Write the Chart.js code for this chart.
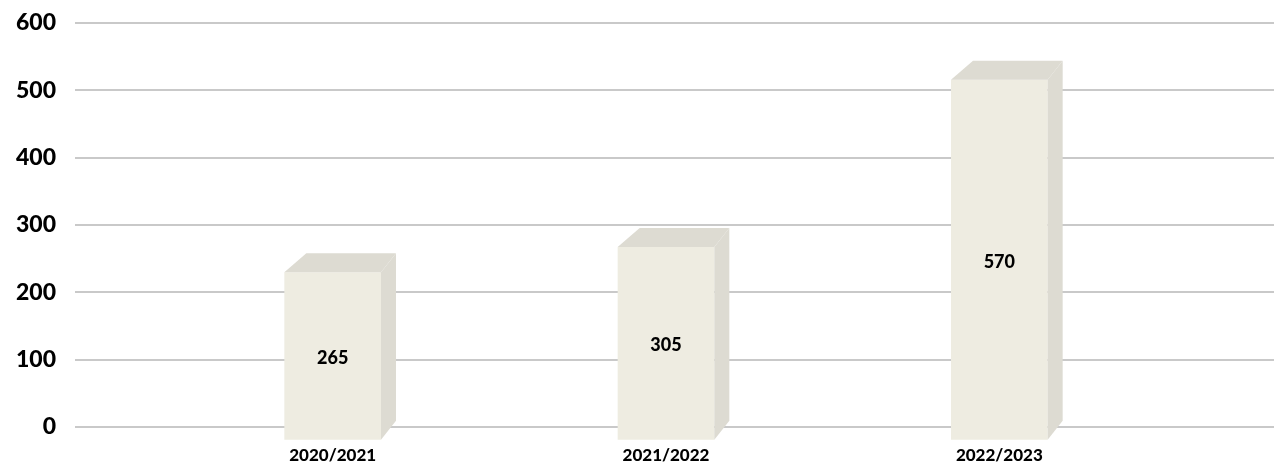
<!DOCTYPE html>
<html>
<head>
<meta charset="utf-8">
<script src="https://cdn.jsdelivr.net/npm/chart.js@4/dist/chart.umd.min.js"></script>
<style>
    html, body { margin: 0; padding: 0; background: #ffffff; }
    #wrap { width: 1274px; height: 464px; }
</style>
</head>
<body>
<div id="wrap"><canvas id="chart"></canvas></div>
<script>
// Data
const seasons = ['2020/2021', '2021/2022', '2022/2023'];
const totals = [265, 305, 570];
const yRange = { min: 0, max: 600, step: 100 };

// Colors
const colors = {
    front: '#EEECE1',
    depth: '#DDDBD2',
    grid: '#C9C9C9',
    text: '#000000'
};

// 3D look
const depthLeft = 22;
const depthRight = 15;
const depthUp = 19;
const gridStartX = 75;

const fontFamily = 'Lato, "Open Sans", sans-serif';
const fontWeight = 900;

// Grid lines on the back wall, depth faces and value labels
const depthPlugin = {
    id: 'depth',
    beforeDatasetsDraw(chart) {
        const ctx = chart.ctx;
        const yScale = chart.scales.y;
        ctx.save();
        ctx.strokeStyle = colors.grid;
        ctx.lineWidth = 2;
        yScale.ticks.forEach(t => {
            const py = Math.round(yScale.getPixelForValue(t.value));
            ctx.beginPath();
            ctx.moveTo(gridStartX, py);
            ctx.lineTo(chart.width, py);
            ctx.stroke();
        });
        ctx.restore();
    },
    afterDatasetsDraw(chart) {
        const ctx = chart.ctx;
        const meta = chart.getDatasetMeta(0);
        ctx.save();
        meta.data.forEach((bar, i) => {
            const { x, y, base, width } = bar.getProps(['x', 'y', 'base', 'width'], true);
            const x1 = x - width / 2;
            const x2 = x + width / 2;

            ctx.fillStyle = colors.depth;
            // top face
            ctx.beginPath();
            ctx.moveTo(x1, y);
            ctx.lineTo(x1 + depthLeft, y - depthUp);
            ctx.lineTo(x2 + depthRight, y - depthUp);
            ctx.lineTo(x2, y);
            ctx.closePath();
            ctx.fill();
            // side face
            ctx.beginPath();
            ctx.moveTo(x2, y);
            ctx.lineTo(x2 + depthRight, y - depthUp);
            ctx.lineTo(x2 + depthRight, base - depthUp);
            ctx.lineTo(x2, base);
            ctx.closePath();
            ctx.fill();

            // value label
            ctx.fillStyle = colors.text;
            ctx.font = fontWeight + ' 18px ' + fontFamily;
            ctx.textAlign = 'center';
            ctx.textBaseline = 'middle';
            ctx.fillText(String(totals[i]), x, (y + base) / 2 + 2);
        });
        ctx.restore();
    }
};

const ctx = document.getElementById('chart').getContext('2d');
new Chart(ctx, {
    type: 'bar',
    data: {
        labels: seasons,
        datasets: [{
            data: totals,
            yAxisID: 'yFront',
            backgroundColor: colors.front,
            borderWidth: 0,
            barPercentage: 0.29,
            categoryPercentage: 1,
            clip: false
        }]
    },
    options: {
        responsive: true,
        maintainAspectRatio: false,
        animation: false,
        layout: {
            padding: { top: 23, right: 108, left: 0, bottom: 0 }
        },
        plugins: {
            legend: { display: false },
            tooltip: { enabled: false }
        },
        scales: {
            x: {
                // invisible tick marks push the labels down
                grid: { color: 'transparent', drawOnChartArea: false, drawTicks: true, tickLength: 15 },
                border: { display: false },
                ticks: {
                    color: colors.text,
                    padding: 3,
                    font: { family: fontFamily, size: 17, weight: fontWeight }
                },
                afterFit: function(scale) {
                    scale.height = 37;
                }
            },
            y: {
                min: yRange.min,
                max: yRange.max,
                grid: { color: 'transparent', drawOnChartArea: false, drawTicks: true, tickLength: 104 },
                border: { display: false },
                ticks: {
                    stepSize: yRange.step,
                    color: colors.text,
                    padding: 6,
                    font: { family: fontFamily, size: 23, weight: fontWeight }
                },
                afterFit: function(scale) {
                    scale.width = 166;
                }
            },
            // front faces sit lower and use a flatter scale than the back wall
            yFront: {
                display: false,
                min: 20,
                max: 660
            }
        }
    },
    plugins: [depthPlugin]
});
</script>
</body>
</html>
